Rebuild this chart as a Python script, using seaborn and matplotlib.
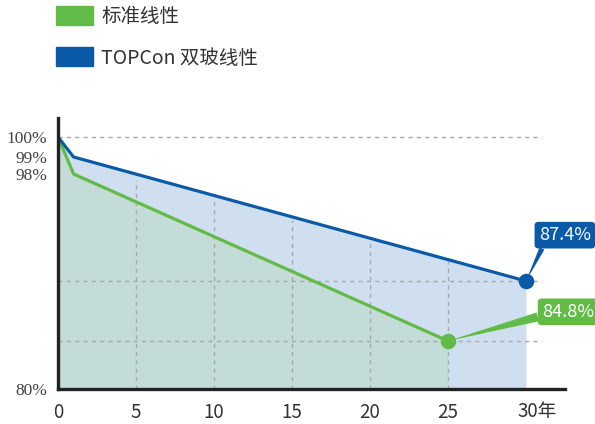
"""
TOPCon 双玻组件 vs 标准组件 线性衰减质保对比图
"""

import numpy as np
import pandas as pd
import matplotlib
matplotlib.use('Agg')
import matplotlib.pyplot as plt
import matplotlib.transforms as mtransforms
from matplotlib.patches import Patch
import seaborn as sns

# 数据
series_names = ['标准线性', 'TOPCon 双玻线性']
years_std = [0, 1, 25]
power_std = [100, 98, 84.8]
years_topcon = [0, 1, 30]
power_topcon = [100, 99, 87.4]
x_ticks = [0, 5, 10, 15, 20, 25, 30]
x_tick_labels = ['0', '5', '10', '15', '20', '25', '30年']
y_ticks = [80, 98, 99, 100]
y_tick_labels = ['80%', '98%', '99%', '100%']

GREEN = '#62bb46'
BLUE = '#0a5aa8'
GREEN_FILL = '#c3dcd7'
BLUE_FILL = '#cfdff0'
GRID = '#a8a8a8'

sns.set_theme(style='white')
plt.rcParams['font.family'] = ['Noto Sans CJK SC', 'DejaVu Sans']

df = pd.concat([
    pd.DataFrame({'year': years_std, 'power': power_std, 'type': series_names[0]}),
    pd.DataFrame({'year': years_topcon, 'power': power_topcon, 'type': series_names[1]}),
])
palette = {series_names[0]: GREEN, series_names[1]: BLUE}

fig = plt.figure(figsize=(5.95, 4.24), dpi=100)
ax = fig.add_axes([58 / 595, 35 / 424, 507 / 595, 271 / 424])

# 纵轴是示意性的非线性刻度（图中高位被拉伸）
_knot_vals = [60, 80, 84.8, 87.4, 98, 99, 100, 120]
_knot_pos = [-380, 0, 48, 108, 215, 232, 252, 632]
ax.set_yscale('function', functions=(lambda v: np.interp(v, _knot_vals, _knot_pos),
                                     lambda p: np.interp(p, _knot_pos, _knot_vals)))

# 填充区域
ax.fill_between(years_topcon, 80, power_topcon, color=BLUE_FILL, lw=0, zorder=1)
ax.fill_between(years_std, 80, power_std, color=GREEN_FILL, lw=0, zorder=1.5)

# 虚线网格
ax.hlines([100, power_topcon[-1], power_std[-1]], 0, 31, colors=GRID,
          linestyles=(0, (3, 3)), lw=1, zorder=2)
vx = [t for t in x_ticks if 0 < t < 30]
ax.vlines(vx, 80, np.interp(vx, years_topcon, power_topcon), colors=GRID,
          linestyles=(0, (3, 3)), lw=1, zorder=2)

sns.lineplot(data=df, x='year', y='power', hue='type', palette=palette,
             linewidth=2.3, legend=False, ax=ax, zorder=3)

# 终点圆点
ax.scatter([years_std[-1]], [power_std[-1]], s=125, color=GREEN, zorder=4, lw=0)
ax.scatter([years_topcon[-1]], [power_topcon[-1]], s=125, color=BLUE, zorder=4, lw=0)

# 标注
box_style = 'round,pad=0.24,rounding_size=0.22'
ax.annotate(f'{power_topcon[-1]}%', xy=(years_topcon[-1], power_topcon[-1]),
            xytext=(28, 33), textcoords='offset points', ha='center', va='center',
            color='white', fontsize=13, fontweight='light',
            bbox=dict(boxstyle=box_style, fc=BLUE, ec='none'),
            arrowprops=dict(arrowstyle='wedge,tail_width=0.3', fc=BLUE, ec='none',
                            relpos=(0.1, 0.0), shrinkA=0, shrinkB=0),
            zorder=5, annotation_clip=False)
ax.annotate(f'{power_std[-1]}%', xy=(years_std[-1], power_std[-1]),
            xytext=(86.5, 21), textcoords='offset points', ha='center', va='center',
            color='white', fontsize=13, fontweight='light',
            bbox=dict(boxstyle=box_style, fc=GREEN, ec='none'),
            arrowprops=dict(arrowstyle='wedge,tail_width=0.5', fc=GREEN, ec='none',
                            relpos=(0.02, 0.3), shrinkA=0, shrinkB=0),
            zorder=5, annotation_clip=False)

ax.set_xlim(0, 32.5)
ax.set_ylim(80, 101)
ax.set_xticks(x_ticks)
ax.set_xticklabels(x_tick_labels, fontsize=13.5, color='#333333')
ax.set_yticks(y_ticks)
ax.set_yticklabels(y_tick_labels, fontsize=12.5, color='#444444',
                   family=['Liberation Serif', 'DejaVu Serif'])
ax.yaxis.set_minor_locator(matplotlib.ticker.NullLocator())
ax.tick_params(axis='both', length=0)
ax.tick_params(axis='x', pad=9)
ax.tick_params(axis='y', pad=8)
# "30年" 的 "30" 对齐刻度
last = ax.get_xticklabels()[-1]
last.set_ha('left')
last.set_transform(last.get_transform() + mtransforms.ScaledTranslation(-6 / 72, 0, fig.dpi_scale_trans))

ax.set_xlabel('')
ax.set_ylabel('')
ax.grid(False)
for side in ['top', 'right']:
    ax.spines[side].set_visible(False)
for side in ['left', 'bottom']:
    ax.spines[side].set_linewidth(2.4)
    ax.spines[side].set_color('#222222')
    ax.spines[side].set_zorder(6)

handles = [Patch(color=GREEN, label=series_names[0]),
           Patch(color=BLUE, label=series_names[1])]
fig.legend(handles=handles, loc='upper left', bbox_to_anchor=(56 / 595, 1 - 6 / 424),
           frameon=False, fontsize=14, handlelength=1.9, handleheight=1.12,
           labelspacing=1.05, handletextpad=0.42, borderpad=0, borderaxespad=0,
           labelcolor='#333333')

plt.savefig('out.png', dpi=100)
